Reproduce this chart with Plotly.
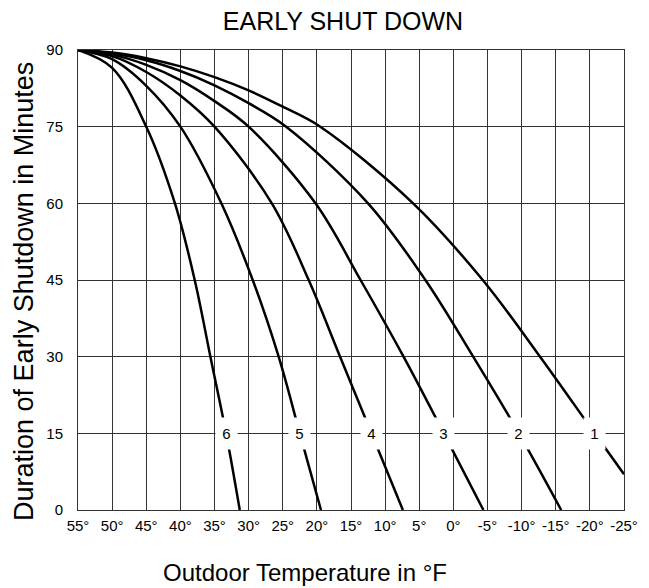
import plotly.graph_objects as go

# ---- data ----
x_ticks = [55, 50, 45, 40, 35, 30, 25, 20, 15, 10, 5, 0, -5, -10, -15, -20, -25]
x_tick_labels = ["55°", "50°", "45°", "40°", "35°", "30°", "25°", "20°", "15°", "10°",
                 "5°", "0°", "-5°", "-10°", "-15°", "-20°", "-25°"]
y_ticks = [0, 15, 30, 45, 60, 75, 90]

curve_names = ["1", "2", "3", "4", "5", "6"]

temp_1 = [55, 50, 45, 40, 35, 30, 25, 19.5, 5.9, -4.3, -12.7, -20.7, -25]
dur_1 = [90, 89.5, 88.4, 86.8, 84.7, 82.1, 78.9, 75, 60, 45, 30, 15, 7.0]

temp_2 = [55, 50, 45, 40, 35, 30, 24.5, 12.5, 4.1, -2.9, -9.6, -15.8]
dur_2 = [90, 89.3, 88.0, 85.9, 83.1, 79.6, 75, 60, 45, 30, 15, 0]

temp_3 = [55, 50, 45, 40, 35, 30, 20.2, 13.6, 7.3, 1.4, -4.4]
dur_3 = [90, 89.1, 87.1, 84.1, 80.0, 75, 60, 45, 30, 15, 0]

temp_4 = [55, 50, 45, 40, 35, 26.6, 21.2, 16.6, 12.0, 7.4]
dur_4 = [90, 88.8, 85.7, 81.1, 75, 60, 45, 30, 15, 0]

temp_5 = [55, 50, 45, 40, 34.0, 29.4, 25.6, 22.5, 19.4]
dur_5 = [90, 88.2, 83.0, 75, 60, 45, 30, 15, 0]

temp_6 = [55, 50, 45, 40.8, 37.9, 35.6, 33.3, 31.3]
dur_6 = [90, 86.5, 75, 60, 45, 30, 15, 0]

label_level = 15

temps = [temp_1, temp_2, temp_3, temp_4, temp_5, temp_6]
durs = [dur_1, dur_2, dur_3, dur_4, dur_5, dur_6]

FONT = "Liberation Sans, Arial, Helvetica, sans-serif"

fig = go.Figure()
for name, t, d in zip(curve_names, temps, durs):
    fig.add_trace(go.Scatter(
        x=t, y=d, mode="lines", name=name,
        line=dict(color="black", width=2.5, shape="spline", smoothing=1.0),
        hoverinfo="skip", showlegend=False,
    ))
    # label sits on the curve at the 15-minute level, with a white box breaking the line
    lx = t[d.index(label_level)]
    fig.add_annotation(
        x=lx, y=label_level, text=name, showarrow=False,
        font=dict(family=FONT, size=15, color="black"),
        bgcolor="white", width=17, height=27, borderpad=2,
        xref="x", yref="y",
    )

# axis titles
fig.add_annotation(
    text="Outdoor Temperature in °F", showarrow=False,
    xref="paper", yref="paper", x=0.416, y=0, xanchor="center", yanchor="middle",
    yshift=-62, font=dict(family=FONT, size=24, color="black"),
)
fig.add_annotation(
    text="Duration of Early Shutdown in Minutes", showarrow=False, textangle=-90,
    xref="paper", yref="paper", x=0, y=0.474, xanchor="center", yanchor="middle",
    xshift=-54, font=dict(family=FONT, size=27, color="black"),
)

fig.update_layout(
    width=649, height=588,
    margin=dict(l=78, r=25, t=50, b=78, autoexpand=False),
    paper_bgcolor="white", plot_bgcolor="white",
    font=dict(family=FONT, color="black"),
    title=dict(text="EARLY SHUT DOWN", x=0.5285, xanchor="center", y=0.964, yanchor="middle",
               font=dict(family=FONT, size=25, color="black")),
)
fig.update_xaxes(
    range=[55, -25], tickmode="array", tickvals=x_ticks, ticktext=x_tick_labels,
    showgrid=True, gridcolor="#333", gridwidth=1,
    showline=True, linecolor="#333", linewidth=1, mirror=True,
    zeroline=False, ticks="", ticklabelstandoff=2, automargin=False,
    tickfont=dict(family=FONT, size=15, color="black"),
)
fig.update_yaxes(
    range=[0, 90], tickmode="array", tickvals=y_ticks,
    showgrid=True, gridcolor="#333", gridwidth=1,
    showline=True, linecolor="#333", linewidth=1, mirror=True,
    zeroline=False, ticks="", ticklabelstandoff=11, automargin=False,
    tickfont=dict(family=FONT, size=15, color="black"),
)

fig.write_html("out.html", config={"displayModeBar": False},
               post_script="document.body.style.margin='0px';")
